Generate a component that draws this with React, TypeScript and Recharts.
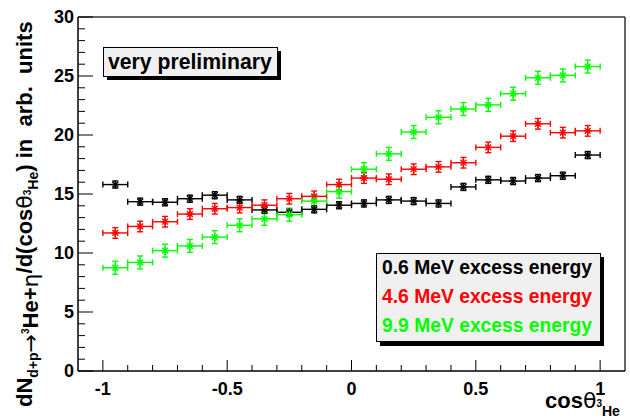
import { ScatterChart, Scatter, XAxis, YAxis, ErrorBar, ReferenceLine } from 'recharts';

const cosBins = [
  -0.95, -0.85, -0.75, -0.65, -0.55, -0.45, -0.35, -0.25, -0.15, -0.05,
  0.05, 0.15, 0.25, 0.35, 0.45, 0.55, 0.65, 0.75, 0.85, 0.95,
];
const yield06 = [
  15.8, 14.35, 14.3, 14.6, 14.9, 14.5, 13.65, 13.45, 13.7, 14.05,
  14.2, 14.5, 14.4, 14.2, 15.6, 16.2, 16.1, 16.35, 16.55, 18.3,
];
const yield46 = [
  11.7, 12.25, 12.65, 13.3, 13.75, 13.85, 14.05, 14.6, 14.8, 15.8,
  16.35, 16.25, 17.1, 17.3, 17.65, 18.95, 19.9, 20.95, 20.2, 20.35,
];
const yield99 = [
  8.75, 9.2, 10.2, 10.6, 11.35, 12.35, 12.9, 13.25, 14.4, 15.2,
  17.1, 18.4, 20.25, 21.5, 22.2, 22.55, 23.5, 24.85, 25.05, 25.8,
];
const binHalfWidth = 0.05;
const err06 = 0.3;
const err46 = 0.45;
const err99 = 0.55;

const legendLabels = ['0.6 MeV excess energy', '4.6 MeV excess energy', '9.9 MeV excess energy'];
const seriesColors = ['#000000', '#ff0000', '#00ff00'];

const xTicks = [
  -1, -0.9, -0.8, -0.7, -0.6, -0.5, -0.4, -0.3, -0.2, -0.1, 0,
  0.1, 0.2, 0.3, 0.4, 0.5, 0.6, 0.7, 0.8, 0.9, 1,
];
const yTicks = Array.from({ length: 31 }, (_, i) => i);

const FONT = '"Liberation Sans", Arial, Helvetica, sans-serif';
const SYMBOL_FONT = '"DejaVu Sans", sans-serif';

const makeSeries = (vals: number[], err: number) =>
  cosBins.map((c, i) => ({ x: c, y: vals[i], ex: binHalfWidth, ey: err }));

const series = [
  makeSeries(yield06, err06),
  makeSeries(yield46, err46),
  makeSeries(yield99, err99),
];

// ROOT-style asterisk marker
function Star(props: any) {
  const { cx, cy, fill } = props;
  const r = 4;
  const d = 2.9;
  return (
    <g stroke={fill} strokeWidth={1.4}>
      <line x1={cx - r} y1={cy} x2={cx + r} y2={cy} />
      <line x1={cx} y1={cy - r} x2={cx} y2={cy + r} />
      <line x1={cx - d} y1={cy - d} x2={cx + d} y2={cy + d} />
      <line x1={cx - d} y1={cy + d} x2={cx + d} y2={cy - d} />
    </g>
  );
}

// ticks drawn inside the frame, labels only on the major ones
function YTick(props: any) {
  const { x, y, payload } = props;
  const v = payload.value;
  const major = v % 5 === 0;
  return (
    <g>
      <line x1={x} y1={y} x2={x + (major ? 15 : 7)} y2={y} stroke="#000" strokeWidth={1} />
      {major && (
        <text x={x - 4} y={y} dy="0.36em" textAnchor="end" fontFamily={FONT} fontWeight="bold" fontSize={18} fill="#000">
          {v}
        </text>
      )}
    </g>
  );
}

function XTick(props: any) {
  const { x, y, payload } = props;
  const k = Math.round(payload.value * 10);
  const major = k % 5 === 0;
  return (
    <g>
      <line x1={x} y1={y} x2={x} y2={y - (major ? 11 : 6)} stroke="#000" strokeWidth={1} />
      {major && (
        <text x={x} y={y + 24} textAnchor="middle" fontFamily={FONT} fontWeight="bold" fontSize={18} fill="#000">
          {String(payload.value)}
        </text>
      )}
    </g>
  );
}

export default function App() {
  return (
    <div style={{ position: 'absolute', left: 0, top: 0, width: 630, height: 419, background: '#fff' }}>
      <ScatterChart width={630} height={419} margin={{ top: 17, right: 5, left: 0, bottom: 0 }}>
        <XAxis
          type="number"
          dataKey="x"
          domain={[-1.1, 1.1]}
          ticks={xTicks}
          tick={<XTick />}
          tickLine={false}
          tickSize={0}
          tickMargin={0}
          height={48}
          axisLine={{ stroke: '#000', strokeWidth: 1.5 }}
          allowDataOverflow
          interval={0}
        />
        <YAxis
          type="number"
          dataKey="y"
          domain={[0, 30]}
          ticks={yTicks}
          tick={<YTick />}
          tickLine={false}
          tickSize={0}
          tickMargin={0}
          width={78}
          axisLine={{ stroke: '#000', strokeWidth: 1.5 }}
          allowDataOverflow
          interval={0}
        />
        <ReferenceLine y={30} stroke="#333" strokeWidth={1.5} ifOverflow="visible" />
        <ReferenceLine x={1.1} stroke="#333" strokeWidth={1.5} ifOverflow="visible" />
        {series.map((data, i) => (
          <Scatter
            key={i}
            data={data}
            fill={seriesColors[i]}
            shape={<Star />}
            isAnimationActive={false}
          >
            <ErrorBar dataKey="ex" direction="x" stroke={seriesColors[i]} strokeWidth={1.4} width={3} />
            <ErrorBar dataKey="ey" direction="y" stroke={seriesColors[i]} strokeWidth={1.4} width={3} />
          </Scatter>
        ))}
      </ScatterChart>

      <svg
        width={630}
        height={419}
        style={{ position: 'absolute', left: 0, top: 0, pointerEvents: 'none' }}
      >
        {/* very preliminary box */}
        <rect x={107} y={51} width={174} height={29} fill="#000" />
        <rect x={103.5} y={47.5} width={174} height={29} fill="#f0f0f0" stroke="#000" strokeWidth={1} />
        <text x={108} y={68.5} fontFamily={FONT} fontWeight="bold" fontSize={21.2} fill="#000">
          very preliminary
        </text>

        {/* legend box */}
        <rect x={380} y={257} width={224} height={89} fill="#000" />
        <rect x={376.5} y={253.5} width={224} height={88} fill="#f0f0f0" stroke="#000" strokeWidth={1} />
        {legendLabels.map((lbl, i) => (
          <text
            key={lbl}
            x={382}
            y={273.5 + i * 29.2}
            fontFamily={FONT}
            fontWeight="bold"
            fontSize={19.3}
            fill={seriesColors[i]}
          >
            {lbl}
          </text>
        ))}

        {/* x axis title */}
        <text x={545} y={408} fontFamily={FONT} fontWeight="bold" fontSize={22} fill="#000">
          cos
          <tspan fontWeight="normal" fontFamily={SYMBOL_FONT}>θ</tspan>
          <tspan fontSize={10} dy={-1}>3</tspan>
          <tspan fontSize={14} dy={9}>He</tspan>
        </text>

        {/* y axis title */}
        <text
          transform="translate(32,407) rotate(-90)"
          fontFamily={FONT}
          fontWeight="bold"
          fontSize={22}
          fill="#000"
        >
          dN
          <tspan fontSize={14} dy={6}>d+p</tspan>
          <tspan fontWeight="normal" fontFamily={SYMBOL_FONT}>→</tspan>
          <tspan fontSize={10} dy={-9}>3</tspan>
          <tspan dy={9}>He+</tspan>
          <tspan fontWeight="normal" fontFamily={SYMBOL_FONT}>η</tspan>
          <tspan fontSize={22} dy={-6}>/d(cos</tspan>
          <tspan fontWeight="normal" fontFamily={SYMBOL_FONT}>θ</tspan>
          <tspan fontSize={10} dy={-1}>3</tspan>
          <tspan fontSize={14} dy={7}>He</tspan>
          <tspan fontSize={22} dy={-6}>{')\u00a0in\u00a0\u00a0arb.\u00a0\u00a0units'}</tspan>
        </text>
      </svg>
    </div>
  );
}
